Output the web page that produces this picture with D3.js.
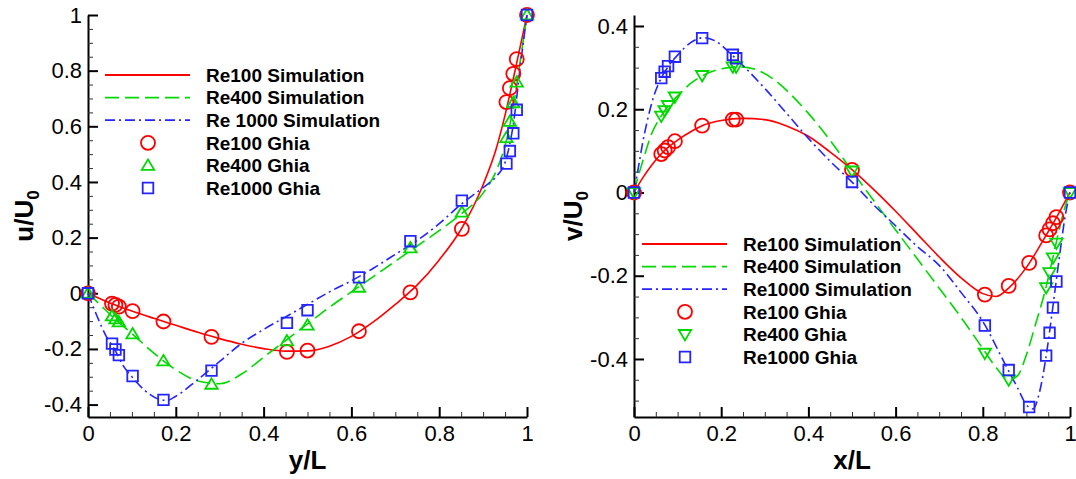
<!DOCTYPE html>
<html>
<head>
<meta charset="utf-8">
<script src="https://cdn.jsdelivr.net/npm/d3@7"></script>
<style>
  html, body { margin: 0; padding: 0; background: #fff; }
  svg { display: block; }
  text { font-family: "Liberation Sans", Arial, Helvetica, sans-serif; fill: #000; }
</style>
</head>
<body>
<svg id="chart" width="1076" height="479"></svg>
<script>
// ---------------- DATA ----------------
// Left panel: u/U0 along vertical centreline vs y/L
const ghiaY = [0, 0.0547, 0.0625, 0.0703, 0.1016, 0.1719, 0.2813, 0.4531, 0.5, 0.6172, 0.7344, 0.8516, 0.9531, 0.9609, 0.9688, 0.9766, 1];
const ghiaU100 = [0, -0.03717, -0.04192, -0.04775, -0.06434, -0.10150, -0.15662, -0.21090, -0.20581, -0.13641, 0.00332, 0.23151, 0.68717, 0.73722, 0.78871, 0.84123, 1];
const ghiaU400 = [0, -0.08186, -0.09266, -0.10338, -0.14612, -0.24299, -0.32726, -0.17119, -0.11477, 0.02135, 0.16256, 0.29093, 0.55892, 0.61756, 0.68439, 0.75837, 1];
const ghiaU1000 = [0, -0.18109, -0.20196, -0.22220, -0.29730, -0.38289, -0.27805, -0.10648, -0.06080, 0.05702, 0.18719, 0.33304, 0.46604, 0.51117, 0.57492, 0.65928, 1];

const simY100 = [0, 0.05, 0.1, 0.15, 0.2, 0.25, 0.3, 0.35, 0.4, 0.45, 0.5, 0.55, 0.6, 0.65, 0.7, 0.75, 0.8, 0.85, 0.9, 0.93, 0.95, 0.97, 0.985, 1];
const simU100 = [0, -0.035, -0.064, -0.09, -0.115, -0.14, -0.163, -0.183, -0.199, -0.208, -0.207, -0.19, -0.155, -0.103, -0.04, 0.03, 0.12, 0.23, 0.39, 0.52, 0.64, 0.78, 0.89, 1];
const simY400 = [0, 0.03, 0.06, 0.1, 0.15, 0.2, 0.25, 0.3, 0.35, 0.4, 0.45, 0.5, 0.55, 0.6, 0.65, 0.7, 0.75, 0.8, 0.85, 0.9, 0.93, 0.95, 0.97, 0.985, 1];
const simU400 = [0, -0.045, -0.09, -0.145, -0.215, -0.275, -0.315, -0.325, -0.29, -0.23, -0.17, -0.11, -0.05, 0.005, 0.06, 0.115, 0.17, 0.225, 0.285, 0.36, 0.44, 0.53, 0.68, 0.84, 1];
const simY1000 = [0, 0.02, 0.04, 0.06, 0.08, 0.1, 0.13, 0.16, 0.18, 0.2, 0.25, 0.3, 0.35, 0.4, 0.45, 0.5, 0.55, 0.6, 0.65, 0.7, 0.75, 0.8, 0.85, 0.9, 0.93, 0.95, 0.97, 0.985, 1];
const simU1000 = [0, -0.08, -0.15, -0.2, -0.26, -0.3, -0.35, -0.38, -0.385, -0.37, -0.31, -0.245, -0.18, -0.13, -0.085, -0.04, 0.005, 0.045, 0.09, 0.14, 0.19, 0.25, 0.32, 0.38, 0.42, 0.47, 0.62, 0.82, 1];

// Right panel: v/U0 along horizontal centreline vs x/L
const ghiaX = [0, 0.0625, 0.0703, 0.0781, 0.0938, 0.1563, 0.2266, 0.2344, 0.5, 0.8047, 0.8594, 0.9063, 0.9453, 0.9531, 0.9609, 0.9688, 1];
const ghiaV100 = [0, 0.09233, 0.10091, 0.10890, 0.12317, 0.16077, 0.17507, 0.17527, 0.05454, -0.24533, -0.22445, -0.16914, -0.10313, -0.08864, -0.07391, -0.05906, 0];
const ghiaX400 = [0, 0.0625, 0.0703, 0.0781, 0.0938, 0.1563, 0.2266, 0.2344, 0.5, 0.8047, 0.8594, 0.9453, 0.9531, 0.9609, 0.9688, 1];
const ghiaV400 = [0, 0.18360, 0.19713, 0.20920, 0.22965, 0.28124, 0.30203, 0.30174, 0.05186, -0.38598, -0.44993, -0.22847, -0.19254, -0.15663, -0.12146, 0];
const ghiaV1000 = [0, 0.27485, 0.29012, 0.30353, 0.32627, 0.37095, 0.33075, 0.32235, 0.02526, -0.31966, -0.42665, -0.51550, -0.39188, -0.33714, -0.27669, -0.21388, 0];

const simX100 = [0, 0.02, 0.04, 0.06, 0.08, 0.1, 0.13, 0.16, 0.2, 0.25, 0.3, 0.35, 0.4, 0.45, 0.5, 0.55, 0.6, 0.65, 0.7, 0.75, 0.8, 0.83, 0.86, 0.9, 0.94, 0.97, 1];
const simV100 = [0, 0.035, 0.065, 0.09, 0.11, 0.126, 0.146, 0.162, 0.173, 0.178, 0.175, 0.16, 0.135, 0.097, 0.055, 0.007, -0.045, -0.1, -0.155, -0.205, -0.243, -0.25, -0.229, -0.18, -0.112, -0.058, 0];
const simX400 = [0, 0.01, 0.02, 0.04, 0.0625, 0.08, 0.1, 0.13, 0.16, 0.2, 0.24, 0.28, 0.32, 0.36, 0.4, 0.45, 0.5, 0.55, 0.6, 0.65, 0.7, 0.75, 0.8, 0.83, 0.86, 0.88, 0.9, 0.92, 0.945, 0.96, 0.975, 0.99, 1];
const simV400 = [0, 0.04, 0.075, 0.14, 0.184, 0.21, 0.232, 0.262, 0.282, 0.297, 0.302, 0.295, 0.272, 0.235, 0.19, 0.125, 0.052, -0.02, -0.09, -0.16, -0.23, -0.3, -0.375, -0.42, -0.45, -0.44, -0.39, -0.32, -0.228, -0.16, -0.09, -0.03, 0];
const simX1000 = [0, 0.01, 0.02, 0.03, 0.045, 0.0625, 0.08, 0.1, 0.13, 0.16, 0.19, 0.22, 0.25, 0.3, 0.35, 0.4, 0.45, 0.5, 0.55, 0.6, 0.65, 0.7, 0.75, 0.8, 0.85, 0.88, 0.9, 0.915, 0.93, 0.945, 0.96, 0.975, 0.99, 1];
const simV1000 = [0, 0.06, 0.12, 0.17, 0.23, 0.275, 0.305, 0.33, 0.36, 0.372, 0.362, 0.335, 0.305, 0.25, 0.19, 0.13, 0.075, 0.025, -0.03, -0.08, -0.13, -0.175, -0.24, -0.31, -0.41, -0.47, -0.51, -0.52, -0.48, -0.395, -0.28, -0.16, -0.05, 0];

// Tick values and labels
const xTicks = [0, 0.2, 0.4, 0.6, 0.8, 1];
const xTickLabels = ["0", "0.2", "0.4", "0.6", "0.8", "1"];
const leftYTicks = [-0.4, -0.2, 0, 0.2, 0.4, 0.6, 0.8, 1];
const leftYTickLabels = ["-0.4", "-0.2", "0", "0.2", "0.4", "0.6", "0.8", "1"];
const rightYTicks = [-0.4, -0.2, 0, 0.2, 0.4];
const rightYTickLabels = ["-0.4", "-0.2", "0", "0.2", "0.4"];

const leftLegend = ["Re100 Simulation", "Re400 Simulation", "Re 1000 Simulation", "Re100 Ghia", "Re400 Ghia", "Re1000 Ghia"];
const rightLegend = ["Re100 Simulation", "Re400 Simulation", "Re1000 Simulation", "Re100 Ghia", "Re400 Ghia", "Re1000 Ghia"];

// ---------------- STYLE ----------------
const RED = "#ff0000", GREEN = "#00d800", BLUE = "#2424ff";
const lineStyles = [
  { color: RED, dash: null },
  { color: GREEN, dash: "14,6" },
  { color: BLUE, dash: "10,4,2,4" }
];

const svg = d3.select("#chart");

function zip(a, b) { return a.map((v, i) => [v, b[i]]); }

function markerPath(type) {
  if (type === "circle") return d3.symbol().type(d3.symbolCircle).size(Math.PI * 49)();
  if (type === "up") return "M0,-6L6.2,4.4L-6.2,4.4Z";
  if (type === "down") return "M0,6L6.2,-4.4L-6.2,-4.4Z";
  return "M-5.3,-5.3H5.3V5.3H-5.3Z";
}

function drawPanel(cfg) {
  const g = svg.append("g");
  const x = d3.scaleLinear().domain([0, 1]).range([cfg.x0, cfg.x1]);
  const y = d3.scaleLinear().domain(cfg.yDomain).range([417, 15]);

  // minor ticks
  const minorX = d3.range(0, 1.0001, 0.05).map(v => +v.toFixed(2)).filter(v => !xTicks.some(t => Math.abs(t - v) < 1e-6));
  const minorY = d3.range(-0.55, 1.0001, 0.05).map(v => +v.toFixed(2))
    .filter(v => v >= cfg.yDomain[0] && v <= cfg.yDomain[1] && !cfg.yTicks.some(t => Math.abs(t - v) < 1e-6));

  const xAxis = d3.axisBottom(x).tickValues(xTicks).tickFormat((d, i) => xTickLabels[i])
    .tickSizeInner(-10).tickSizeOuter(0).tickPadding(8);
  const yAxis = d3.axisLeft(y).tickValues(cfg.yTicks).tickFormat((d, i) => cfg.yTickLabels[i])
    .tickSizeInner(-10).tickSizeOuter(0).tickPadding(6);

  const gx = g.append("g").attr("transform", `translate(0,417)`).call(xAxis);
  const gy = g.append("g").attr("transform", `translate(${cfg.x0},0)`).call(yAxis);
  g.append("g").attr("transform", `translate(0,417)`)
    .call(d3.axisBottom(x).tickValues(minorX).tickFormat("").tickSizeInner(-5).tickSizeOuter(0))
    .call(s => s.select(".domain").remove())
    .selectAll("line").attr("stroke-width", 1).attr("stroke", "#333");
  g.append("g").attr("transform", `translate(${cfg.x0},0)`)
    .call(d3.axisLeft(y).tickValues(minorY).tickFormat("").tickSizeInner(-5).tickSizeOuter(0))
    .call(s => s.select(".domain").remove())
    .selectAll("line").attr("stroke-width", 1).attr("stroke", "#333");

  [gx, gy].forEach(a => {
    a.select(".domain").attr("stroke", "#000").attr("stroke-width", 2);
    a.selectAll(".tick line").attr("stroke", "#000").attr("stroke-width", 2);
    a.selectAll(".tick text").attr("font-size", 22).attr("font-family", '"Liberation Sans", Arial, sans-serif').attr("fill", "#000");
  });

  // axis titles
  g.append("text").attr("x", (cfg.x0 + cfg.x1) / 2).attr("y", 469)
    .attr("text-anchor", "middle").attr("font-size", 26).attr("font-weight", "bold").text(cfg.xTitle);
  const yt = g.append("text").attr("transform", `translate(${cfg.yTitleX},216) rotate(-90)`)
    .attr("text-anchor", "middle").attr("font-size", 26).attr("font-weight", "bold");
  yt.append("tspan").text(cfg.yTitle);
  yt.append("tspan").attr("font-size", 17).attr("dy", 6).text("0");

  // lines
  const line = d3.line().x(d => x(d[0])).y(d => y(d[1])).curve(d3.curveMonotoneX);
  cfg.sims.forEach((s, i) => {
    g.append("path").datum(s).attr("d", line).attr("fill", "none")
      .attr("stroke", lineStyles[i].color).attr("stroke-width", 1.6)
      .attr("stroke-dasharray", lineStyles[i].dash);
  });

  // markers
  cfg.ghia.forEach((s, i) => {
    g.append("g").selectAll("path").data(s).join("path")
      .attr("transform", d => `translate(${x(d[0])},${y(d[1])})`)
      .attr("d", markerPath(cfg.markers[i]))
      .attr("fill", "none").attr("stroke", lineStyles[i].color).attr("stroke-width", 1.8);
  });

  // legend
  const lg = g.append("g");
  cfg.legend.forEach((label, i) => {
    const yy = cfg.legY + i * 22.6;
    if (i < 3) {
      lg.append("line").attr("x1", cfg.legX).attr("x2", cfg.legX + 85).attr("y1", yy).attr("y2", yy)
        .attr("stroke", lineStyles[i].color).attr("stroke-width", 1.8)
        .attr("stroke-dasharray", lineStyles[i].dash);
    } else {
      lg.append("path").attr("transform", `translate(${cfg.legX + 43},${yy})`)
        .attr("d", markerPath(cfg.markers[i - 3])).attr("fill", "none")
        .attr("stroke", lineStyles[i - 3].color).attr("stroke-width", 1.8);
    }
    lg.append("text").attr("x", cfg.legX + 101).attr("y", yy).attr("dy", "0.36em")
      .attr("font-size", 19).attr("font-weight", "bold").text(label);
  });
}

drawPanel({
  x0: 88, x1: 527,
  yDomain: [-0.4 - 124 / 278 * 0.1, 1],
  yTicks: leftYTicks, yTickLabels: leftYTickLabels,
  xTitle: "y/L", yTitle: "u/U", yTitleX: 33,
  sims: [zip(simY100, simU100), zip(simY400, simU400), zip(simY1000, simU1000)],
  ghia: [zip(ghiaY, ghiaU100), zip(ghiaY, ghiaU400), zip(ghiaY, ghiaU1000)],
  markers: ["circle", "up", "square"],
  legend: leftLegend, legX: 105, legY: 75
});

drawPanel({
  x0: 634, x1: 1070,
  yDomain: [-0.5394, 0.4264],
  yTicks: rightYTicks, yTickLabels: rightYTickLabels,
  xTitle: "x/L", yTitle: "v/U", yTitleX: 582,
  sims: [zip(simX100, simV100), zip(simX400, simV400), zip(simX1000, simV1000)],
  ghia: [zip(ghiaX, ghiaV100), zip(ghiaX400, ghiaV400), zip(ghiaX, ghiaV1000)],
  markers: ["circle", "down", "square"],
  legend: rightLegend, legX: 642, legY: 244
});
</script>
</body>
</html>
